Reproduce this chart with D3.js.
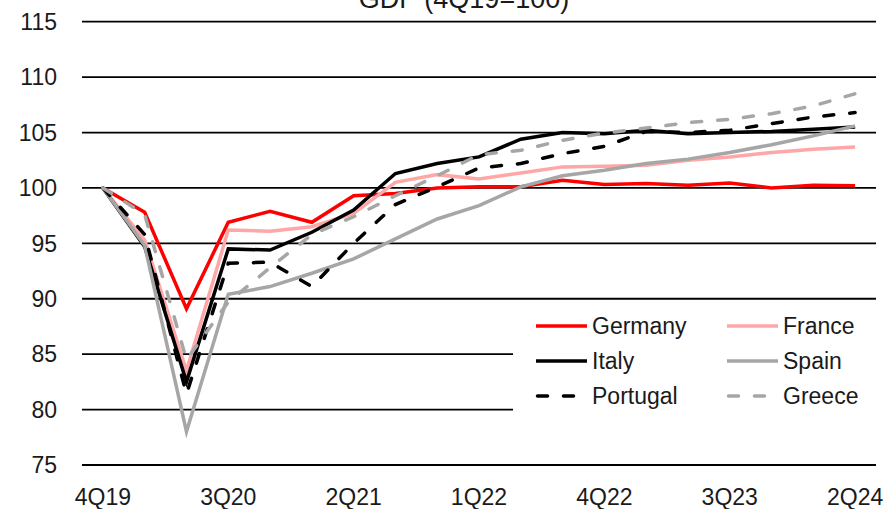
<!DOCTYPE html>
<html>
<head>
<meta charset="utf-8">
<script src="https://cdn.jsdelivr.net/npm/d3@7"></script>
<style>
  html, body { margin: 0; padding: 0; background: #fff; }
  svg { display: block; font-family: "Liberation Sans", Arial, sans-serif; }
</style>
</head>
<body>
<svg id="chart" width="889" height="509"></svg>
<script>
const title = "GDP (4Q19=100)";
const quarters = ["4Q19","1Q20","2Q20","3Q20","4Q20","1Q21","2Q21","3Q21","4Q21","1Q22","2Q22","3Q22","4Q22","1Q23","2Q23","3Q23","4Q23","1Q24","2Q24"];
const xTickLabels = ["4Q19","3Q20","2Q21","1Q22","4Q22","3Q23","2Q24"];
const yTicks = [75, 80, 85, 90, 95, 100, 105, 110, 115];

const germany  = [100, 97.8, 89.1, 96.9, 97.9, 96.9, 99.3, 99.5, 100.0, 100.1, 100.1, 100.7, 100.3, 100.4, 100.25, 100.45, 100.0, 100.25, 100.2];
const france   = [100, 95.3, 83.5, 96.2, 96.1, 96.5, 97.7, 100.5, 101.2, 100.8, 101.35, 101.9, 101.95, 102.05, 102.5, 102.8, 103.2, 103.5, 103.7];
const italy    = [100, 94.7, 82.5, 94.5, 94.4, 96.0, 98.0, 101.3, 102.2, 102.8, 104.4, 105.0, 104.9, 105.2, 104.9, 105.0, 105.1, 105.3, 105.5];
const spain    = [100, 94.8, 78.0, 90.4, 91.1, 92.3, 93.6, 95.4, 97.2, 98.4, 100.1, 101.1, 101.6, 102.2, 102.6, 103.2, 103.9, 104.7, 105.6];
const portugal = [100, 95.8, 81.4, 93.2, 93.3, 91.1, 95.0, 98.5, 100.1, 101.8, 102.2, 103.1, 103.75, 105.1, 105.0, 105.2, 105.8, 106.4, 106.8];
const greece   = [100, 97.6, 84.5, 89.7, 92.8, 95.8, 97.4, 99.3, 101.1, 103.0, 103.4, 104.3, 104.95, 105.4, 105.9, 106.2, 106.7, 107.4, 108.5];

const seriesNames = ["Germany", "France", "Italy", "Spain", "Portugal", "Greece"];
const seriesValues = [germany, france, italy, spain, portugal, greece];
const seriesColors = ["#ff0000", "#ffa6a6", "#000000", "#a6a6a6", "#000000", "#a6a6a6"];
const seriesDashed = [false, false, false, false, true, true];

const svg = d3.select("#chart");
const plotLeft = 82, plotRight = 876, plotTop = 21.7, plotBottom = 465;

const x = d3.scalePoint().domain(quarters).range([plotLeft, plotRight]).padding(0.5);
const y = d3.scaleLinear().domain([75, 115]).range([plotBottom, plotTop]);

// gridlines
svg.append("g").selectAll("line").data(yTicks).join("line")
  .attr("x1", plotLeft).attr("x2", plotRight)
  .attr("y1", d => y(d)).attr("y2", d => y(d))
  .attr("stroke", "#000").attr("stroke-width", 1.8);

// y labels
svg.append("g").selectAll("text").data(yTicks).join("text")
  .attr("x", 57).attr("y", d => y(d)).attr("dy", "0.36em")
  .attr("text-anchor", "end").attr("font-size", 23).attr("fill", "#1a1a1a")
  .text(d => d);

// x labels
svg.append("g").selectAll("text").data(xTickLabels).join("text")
  .attr("x", d => x(d)).attr("y", 505)
  .attr("text-anchor", "middle").attr("font-size", 23).attr("fill", "#1a1a1a")
  .text(d => d);

// title
svg.append("text").attr("x", 464).attr("y", 8)
  .attr("text-anchor", "middle").attr("font-size", 27).attr("fill", "#1a1a1a")
  .text(title);

// lines
const line = d3.line().x((d, i) => x(quarters[i])).y(d => y(d));
const lineG = svg.append("g");
seriesValues.forEach((vals, k) => {
  lineG.append("path")
    .datum(vals)
    .attr("d", line)
    .attr("fill", "none")
    .attr("stroke", seriesColors[k])
    .attr("stroke-width", 3.5)
    .attr("stroke-linejoin", "miter")
    .attr("stroke-linecap", seriesDashed[k] ? "round" : "butt")
    .attr("stroke-dasharray", seriesDashed[k] ? "10,16" : null);
});

// legend background
svg.append("rect").attr("x", 513).attr("y", 306).attr("width", 370).attr("height", 112).attr("fill", "#fff");

// legend
const legendX = [536, 727];
const legendY = [326, 361, 396];
const lg = svg.append("g");
seriesNames.forEach((name, k) => {
  const col = k % 2, row = Math.floor(k / 2);
  const lx = legendX[col], ly = legendY[row];
  lg.append("line")
    .attr("x1", seriesDashed[k] ? lx + 1.5 : lx).attr("x2", lx + 51)
    .attr("y1", ly).attr("y2", ly)
    .attr("stroke", seriesColors[k]).attr("stroke-width", 3.5)
    .attr("stroke-linecap", seriesDashed[k] ? "round" : "butt")
    .attr("stroke-dasharray", seriesDashed[k] ? "10,16" : null);
  lg.append("text")
    .attr("x", lx + 56).attr("y", ly).attr("dy", "0.36em")
    .attr("font-size", 23).attr("fill", "#1a1a1a")
    .text(name);
});
</script>
</body>
</html>
